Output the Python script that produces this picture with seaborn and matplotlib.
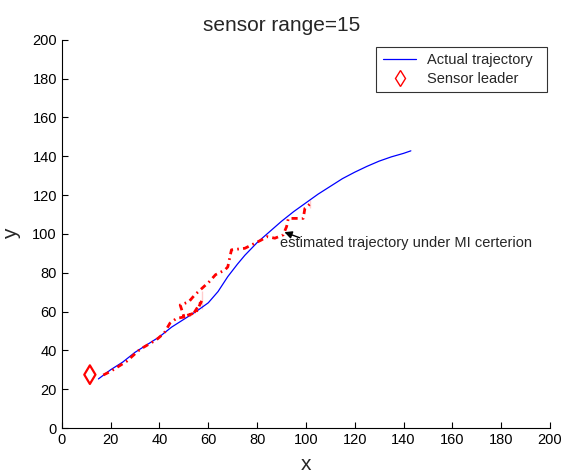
import numpy as np
import pandas as pd
import matplotlib
matplotlib.use("Agg")
import matplotlib.pyplot as plt
from matplotlib.lines import Line2D
import seaborn as sns

# actual target trajectory
actual_x = [15, 20, 25, 30, 35, 40, 45, 50, 55, 60, 64, 68, 72, 75, 80, 85,
            90, 95, 100, 105, 110, 115, 120, 125, 130, 135, 140, 143]
actual_y = [25.3, 30, 34, 39, 43, 47, 52, 56, 60, 64.5, 70.3, 78, 84.5, 89,
            95.5, 101, 106.5, 111.5, 116, 120.5, 124.5, 128.5, 131.8, 134.8,
            137.5, 139.7, 141.5, 142.8]

# estimated trajectory (MI criterion)
est_x = [17, 20, 26.5, 32, 38.8, 42, 44.3, 47, 51, 54, 57.5, 55, 50, 48.5,
         52, 54.5, 57.5, 60.5, 63, 66.8, 68, 69.5, 75, 81.8, 84, 87.3, 90.7,
         92.1, 92.8, 98.9, 99.6, 101.6, 101.6]
est_y = [27.3, 29.2, 34.3, 40.5, 45.5, 49, 54, 56.5, 57.4, 59, 61.5, 59.5,
         57.5, 63.4, 65, 68.6, 70.5, 75.5, 79, 81.4, 83, 91.8, 92.6, 96.9,
         98.6, 97.8, 99.5, 103.8, 108, 108, 113.2, 113.2, 117.5]

# sensor leader position
leader_x = [11.5]
leader_y = [27.5]

sns.set_style("white")
plt.rcParams['font.family'] = ['Liberation Sans', 'DejaVu Sans']

fig = plt.figure(figsize=(5.67, 4.74), dpi=100)
ax = fig.add_axes([0.109, 0.097, 0.861, 0.819])

actual = pd.DataFrame({'x': actual_x, 'y': actual_y})
est = pd.DataFrame({'x': est_x, 'y': est_y})

sns.lineplot(data=actual, x='x', y='y', sort=False, color='blue', lw=0.9,
             ax=ax)
sns.lineplot(data=est, x='x', y='y', sort=False, color='red', lw=2,
             dashes=False, ax=ax)
ax.lines[-1].set_dashes((2.2, 1.5, 0.6, 1.5))
sns.scatterplot(x=leader_x, y=leader_y, marker='d', s=90, facecolor='none',
                edgecolor='red', linewidth=1.6, ax=ax)

# annotation
ax.annotate('', xy=(91.2, 100.9), xytext=(97.5, 98),
            arrowprops=dict(arrowstyle='-|>', color='black', lw=1,
                            shrinkA=0, shrinkB=0, mutation_scale=11))
ax.text(89.3, 95.2, 'estimated trajectory under MI certerion', fontsize=10.5,
        va='center', ha='left')

ax.set_xlim(0, 200)
ax.set_ylim(0, 200)
ax.set_xticks(range(0, 201, 20))
ax.set_yticks(range(0, 201, 20))
ax.tick_params(direction='in', length=4, labelsize=10.5, bottom=True,
               left=True, width=0.8, colors='black')
for s in ['top', 'right']:
    ax.spines[s].set_visible(False)
for s in ['left', 'bottom']:
    ax.spines[s].set_color('black')
    ax.spines[s].set_linewidth(0.8)

ax.set_xlabel('x', fontsize=15, labelpad=6)
ax.set_ylabel('y', fontsize=15, labelpad=8)
ax.set_title('sensor range=15', fontsize=15, x=0.451)

handles = [Line2D([], [], color='blue', lw=0.9),
           Line2D([], [], ls='none', marker='d', markersize=8,
                  markerfacecolor='none', markeredgecolor='red',
                  markeredgewidth=1)]
leg = ax.legend(handles, ['Actual trajectory', 'Sensor leader'],
                loc='upper right', bbox_to_anchor=(0.9939, 0.982),
                borderaxespad=0, fontsize=10.5, frameon=True, fancybox=False,
                edgecolor='black', handlelength=2.3, handletextpad=0.7,
                labelspacing=0.3, borderpad=0.45)
leg.get_frame().set_linewidth(0.8)
# a bit of extra room on the right of the legend text, as in the original
for t in leg.get_texts():
    t.set_text(t.get_text() + '  ')

fig.savefig('out.png', dpi=100)
